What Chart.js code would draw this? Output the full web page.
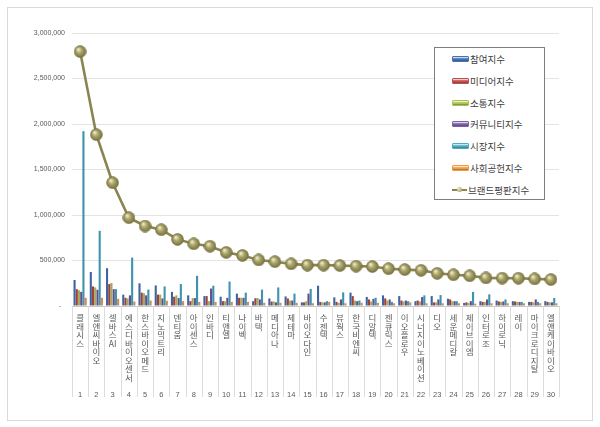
<!DOCTYPE html>
<html><head><meta charset="utf-8">
<script src="https://cdn.jsdelivr.net/npm/chart.js@4.4.1/dist/chart.umd.min.js"></script>
<style>
html,body{margin:0;padding:0;background:#fff;}
#wrap{position:relative;width:600px;height:427px;overflow:hidden;}
#frame{position:absolute;left:7px;top:7px;width:586px;height:414px;border:1px solid #d9d9d9;box-sizing:border-box;}
#c{position:absolute;left:0;top:0;}
#legend{position:absolute;left:434px;top:47px;width:111px;height:153px;border:1px solid #7f7f7f;background:#fff;box-sizing:border-box;font-family:"Noto Sans CJK KR","Noto Sans",sans-serif;font-size:9.5px;color:#404040;}
.li{position:absolute;left:17px;height:12px;line-height:12px;display:flex;align-items:center;white-space:nowrap;}
.sw{width:15px;height:4px;margin-right:1px;border-radius:1px;}
.lsw{position:relative;width:15px;height:12px;margin-right:1px;}
.lsw .ln{position:absolute;left:0;top:5px;width:15px;height:2px;}
.lsw .pt{position:absolute;left:5px;top:3.5px;width:5px;height:5px;border-radius:50%;}
</style></head>
<body>
<div id="wrap">
<div id="frame"></div>
<canvas id="c" width="600" height="427"></canvas>
<div id="legend"></div>
</div>
<script>
// ---- data ----
const names = ['클래시스','엘앤씨바이오','셀바스AI','에스디바이오센서','한스바이오메드','지노믹트리','덴티움','아이센스','인바디','티앤엘','나이벡','바텍','메디아나','제테마','바이오다인','수젠텍','뷰웍스','한국비엔씨','디알텍','젠큐릭스','이오플로우','시너지이노베이션','디오','세운메디칼','제이브이엠','인터로조','하이로닉','레이','마이크로디지탈','엘앤케이바이오'];
const ranks = ['1','2','3','4','5','6','7','8','9','10','11','12','13','14','15','16','17','18','19','20','21','22','23','24','25','26','27','28','29','30'];
const yTicks = [0,500000,1000000,1500000,2000000,2500000,3000000];

const participation = [286000,374000,415000,125000,249000,226000,155000,117000,109000,102000,136000,53000,83000,105000,40000,223000,95000,147000,100000,117000,109000,53000,109000,80000,34000,53000,60000,53000,45000,53000];
const media = [185000,215000,241000,90000,147000,125000,102000,53000,109000,53000,90000,85000,49000,83000,40000,45000,45000,109000,72000,83000,60000,60000,40000,72000,40000,45000,50000,50000,45000,45000];
const communication = [173000,204000,253000,83000,140000,125000,117000,87000,53000,53000,90000,88000,49000,60000,53000,40000,35000,60000,50000,60000,50000,50000,40000,53000,34000,45000,45000,45000,40000,40000];
const community = [155000,178000,185000,117000,117000,83000,87000,87000,192000,90000,90000,72000,40000,60000,136000,40000,72000,53000,79000,72000,60000,98000,72000,53000,53000,72000,50000,45000,72000,40000];
const market = [1921000,826000,185000,532000,181000,215000,241000,332000,223000,268000,147000,180000,204000,136000,188000,53000,150000,60000,90000,45000,53000,117000,120000,53000,155000,128000,72000,45000,45000,88000];
const social = [90000,90000,79000,49000,60000,57000,53000,45000,45000,45000,45000,35000,35000,35000,30000,45000,30000,35000,35000,30000,40000,30000,30000,30000,25000,30000,30000,30000,30000,30000];
const brand = [2796000,1883000,1355000,970000,879000,838000,732000,683000,657000,589000,556000,506000,487000,463000,449000,449000,445000,438000,434000,410000,400000,392000,359000,343000,332000,309000,306000,305000,298000,291000];

const seriesNames = ['참여지수','미디어지수','소통지수','커뮤니티지수','시장지수','사회공헌지수','브랜드평판지수'];

// vertical (stacked-character) labels
const verticalLabels = names.map(n => n.match(/[A-Za-z]+|./g));

function ball(){
  const s=13, cv=document.createElement('canvas'); cv.width=s; cv.height=s;
  const g=cv.getContext('2d');
  const gr=g.createRadialGradient(4.6,4.2,0.4,6.5,6.5,6.6);
  gr.addColorStop(0,'#f1eecb'); gr.addColorStop(0.4,'#aca66c'); gr.addColorStop(1,'#6e6a3a');
  g.fillStyle=gr; g.beginPath(); g.arc(6.5,6.5,5.9,0,Math.PI*2); g.fill();
  g.strokeStyle='#7a7444'; g.lineWidth=0.7; g.stroke();
  return cv;
}

const barColors = ['#40649e','#a23f3c','#a2aa5c','#60508e','#3e93ae','#d8874a'];
const legendColors = ['#4472b8','#c0504d','#a8c452','#7c60a8','#4bacc6','#f39a3f'];
const barData = [participation, media, communication, community, market, social];

const datasets = barData.map((d,i)=>({
  type:'bar', label:seriesNames[i], data:d, backgroundColor:barColors[i], borderWidth:0,
  barPercentage:0.95, categoryPercentage:0.82, order:2, xAxisID:'x', yAxisID:'y'
}));
datasets.push({
  type:'line', label:seriesNames[6], data:brand, borderColor:'#8a8450', borderWidth:2.6,
  pointStyle:ball(), pointRadius:6, tension:0, order:0, xAxisID:'x', yAxisID:'y'
});

const sepPlugin = {
  id:'seps',
  afterDraw(chart){
    const x=chart.scales.x, x2=chart.scales.x2, c=chart.ctx;
    c.save(); c.strokeStyle='#dcdcdc'; c.lineWidth=1;
    for(let i=0;i<=names.length;i++){
      const px=Math.round(x.getPixelForValue(i-0.5))+0.5;
      c.beginPath(); c.moveTo(px,chart.chartArea.bottom); c.lineTo(px,x2.bottom-2); c.stroke();
    }
    c.restore();
  }
};

const chart = new Chart(document.getElementById('c'), {
  data:{labels:verticalLabels, datasets},
  options:{
    responsive:false, animation:false,
    layout:{padding:{left:0,right:41,top:33,bottom:28}},
    plugins:{legend:{display:false},tooltip:{enabled:false}},
    scales:{
      x:{type:'category', offset:true, position:'bottom', weight:0,
         grid:{display:false, drawTicks:false}, border:{display:true,color:'#c8c8c8'},
         ticks:{autoSkip:false,maxRotation:0,minRotation:0,padding:8,color:'#595959',
                font:{family:'"Noto Sans CJK KR"',size:8.5,lineHeight:'8.5px'}}},
      x2:{type:'category', labels:ranks, offset:true, position:'bottom', weight:1,
         grid:{display:false, drawTicks:false}, border:{display:false},
         ticks:{autoSkip:false,maxRotation:0,minRotation:0,padding:0,color:'#595959',
                font:{family:'"Liberation Sans"',size:7.5}}},
      y:{min:0,max:3000000, afterFit(s){s.width=72;},
         afterBuildTicks(s){s.ticks=yTicks.map(v=>({value:v}));},
         grid:{color:'#e4e4e4',drawTicks:false}, border:{display:false},
         ticks:{padding:7,color:'#595959',font:{family:'"Liberation Sans"',size:7},
                callback:v=> v===0 ? '-  ' : Number(v).toLocaleString('en-US')}}
    }
  },
  plugins:[sepPlugin]
});

// HTML legend built from the datasets
const lg=document.getElementById('legend');
chart.data.datasets.forEach((ds,i)=>{
  const it=document.createElement('div'); it.className='li'; it.style.top=(5+i*21.75)+'px';
  if(ds.type==='bar'){
    const sw=document.createElement('div'); sw.className='sw';
    const col=legendColors[i];
    sw.style.background='linear-gradient(to bottom, #ffffff 0%, '+col+' 45%, '+col+' 70%, #303030 130%)';
    sw.style.border='0.5px solid '+col;
    it.appendChild(sw);
  } else {
    const sw=document.createElement('div'); sw.className='lsw';
    sw.innerHTML='<div class="ln" style="background:#8a8450"></div><div class="pt" style="background:radial-gradient(circle at 35% 35%,#eeeac4,#8f8a55)"></div>';
    it.appendChild(sw);
  }
  const t=document.createElement('span'); t.textContent=ds.label; it.appendChild(t);
  lg.appendChild(it);
});
</script>
</body></html>
